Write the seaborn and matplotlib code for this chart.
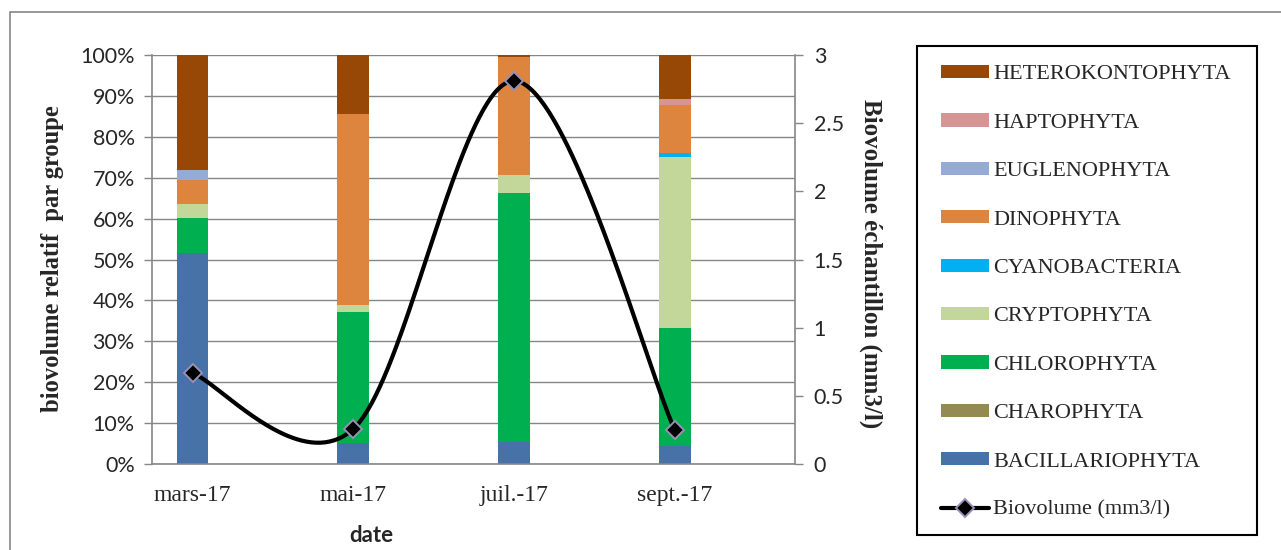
import numpy as np
import pandas as pd
import matplotlib
matplotlib.use("Agg")
import matplotlib.pyplot as plt
from matplotlib.patches import Patch, Rectangle
from matplotlib.lines import Line2D
import seaborn as sns

# Sampling dates and phytoplankton groups (bottom to top of each stack)
dates = ["mars-17", "mai-17", "juil.-17", "sept.-17"]
groups = ["BACILLARIOPHYTA", "CHAROPHYTA", "CHLOROPHYTA", "CRYPTOPHYTA",
          "CYANOBACTERIA", "DINOPHYTA", "EUGLENOPHYTA", "HAPTOPHYTA",
          "HETEROKONTOPHYTA"]

# Relative biovolume per group (%)
bacillariophyta = [51.5, 5.1, 5.5, 4.4]
charophyta = [0.0, 0.0, 0.0, 0.0]
chlorophyta = [8.6, 32.1, 60.7, 28.9]
cryptophyta = [3.4, 1.7, 4.5, 41.8]
cyanobacteria = [0.0, 0.0, 0.0, 1.0]
dinophyta = [6.0, 46.7, 28.9, 11.7]
euglenophyta = [2.4, 0.0, 0.0, 0.0]
haptophyta = [0.0, 0.0, 0.0, 1.4]
heterokontophyta = [28.1, 14.4, 0.4, 10.8]

# Total sample biovolume (mm3/l)
biovolume = [0.667, 0.257, 2.81, 0.25]

colors = {
    "BACILLARIOPHYTA": "#4672a8",
    "CHAROPHYTA": "#948a54",
    "CHLOROPHYTA": "#00b050",
    "CRYPTOPHYTA": "#c4d79b",
    "CYANOBACTERIA": "#00b0f0",
    "DINOPHYTA": "#dd843f",
    "EUGLENOPHYTA": "#95abd3",
    "HAPTOPHYTA": "#d69595",
    "HETEROKONTOPHYTA": "#974706",
}

df = pd.DataFrame({
    "BACILLARIOPHYTA": bacillariophyta,
    "CHAROPHYTA": charophyta,
    "CHLOROPHYTA": chlorophyta,
    "CRYPTOPHYTA": cryptophyta,
    "CYANOBACTERIA": cyanobacteria,
    "DINOPHYTA": dinophyta,
    "EUGLENOPHYTA": euglenophyta,
    "HAPTOPHYTA": haptophyta,
    "HETEROKONTOPHYTA": heterokontophyta,
}, index=dates)
cum = df[groups].cumsum(axis=1) / 100.0

sns.set_style("white")
plt.rcParams["font.family"] = ["Lato", "DejaVu Sans"]

SERIF = ["Liberation Serif", "DejaVu Serif"]
SANS = ["Lato", "DejaVu Sans"]
GRAY = "#868686"

W, H = 1281, 550
fig = plt.figure(figsize=(W / 100, H / 100), dpi=100)

def fx(px):
    return px / W

def fy(py):
    return 1 - py / H

left, right, top, bottom = 152, 795, 55, 464
ax = fig.add_axes([fx(left), fy(bottom), fx(right - left), (bottom - top) / H])

# Stacked bars: draw cumulative totals from the top group downwards
for g in reversed(groups):
    sns.barplot(x=dates, y=cum[g].values, color=colors[g], width=0.197,
                saturation=1, linewidth=0, errorbar=None, ax=ax, zorder=2)

ax.set_axisbelow(True)
ax.set_ylim(0, 1)
ax.set_xlim(-0.252, 3.748)
ax.set_yticks(np.arange(0, 1.01, 0.1))
ax.set_yticklabels([f"{int(round(v * 100))}%" for v in np.arange(0, 1.01, 0.1)],
                   family=SANS, fontsize=15.5)
ax.yaxis.grid(True, color=GRAY, linewidth=1.0)
ax.xaxis.grid(False)
ax.set_xticks(np.arange(5) - 0.252)
ax.set_xticklabels([])
ax.set_xticks(range(len(dates)), minor=True)
ax.set_xticklabels(dates, minor=True, family=SERIF, fontsize=17)
ax.tick_params(axis="x", which="major", direction="out", length=4.5,
               color=GRAY, width=1)
ax.tick_params(axis="x", which="minor", length=0, pad=15)
ax.tick_params(axis="y", direction="out", length=5.5, color=GRAY, width=1,
               pad=7)
ax.set_xlabel("")
ax.set_ylabel("")
for s in ["top", "right"]:
    ax.spines[s].set_visible(False)
for s in ["left", "bottom"]:
    ax.spines[s].set_color(GRAY)
    ax.spines[s].set_linewidth(1.2)

# Total biovolume on the secondary axis, drawn as a smoothed Bezier curve
ax2 = ax.twinx()

def smooth_curve(xs, ys, n=80):
    pts = np.column_stack([xs, ys]).astype(float)
    out = []
    for i in range(len(pts) - 1):
        p0 = pts[max(i - 1, 0)]
        p1 = pts[i]
        p2 = pts[i + 1]
        p3 = pts[min(i + 2, len(pts) - 1)]
        c1 = p1 + (p2 - p0) / 6
        c2 = p2 - (p3 - p1) / 6
        t = np.linspace(0, 1, n)[:, None]
        seg = ((1 - t) ** 3) * p1 + 3 * ((1 - t) ** 2) * t * c1 \
            + 3 * (1 - t) * t ** 2 * c2 + t ** 3 * p2
        out.append(seg if i == 0 else seg[1:])
    return np.vstack(out)

MARKER = dict(marker="D", markersize=9.5, markerfacecolor="black",
              markeredgecolor="#9b8fb5", markeredgewidth=1.4)

xpos = np.arange(len(dates))
curve = smooth_curve(xpos, biovolume)
sns.lineplot(x=curve[:, 0], y=curve[:, 1], sort=False, estimator=None,
             color="black", linewidth=3, ax=ax2, zorder=3)
ax2.plot(xpos, biovolume, linestyle="none", zorder=4, **MARKER)
ax2.set_ylim(0, 3)
ax2.set_xlim(-0.252, 3.748)
ax2.set_yticks(np.arange(0, 3.01, 0.5))
ax2.set_yticklabels(["0", "0.5", "1", "1.5", "2", "2.5", "3"],
                    family=SANS, fontsize=15.5)
ax2.tick_params(axis="y", direction="out", length=5.5, color=GRAY, width=1,
                pad=8)
ax2.set_ylabel("")
for s in ["top", "left", "bottom"]:
    ax2.spines[s].set_visible(False)
ax2.spines["right"].set_color(GRAY)
ax2.spines["right"].set_linewidth(1.2)

# Axis titles
fig.text(fx(53), fy(259), "biovolume relatif  par groupe", rotation=90,
         ha="center", va="center", family=SERIF, fontweight="bold",
         fontsize=17.7)
fig.text(fx(871), fy(264), "Biovolume échantillon (mm3/l)", rotation=270,
         ha="center", va="center", family=SERIF, fontweight="bold",
         fontsize=18)
fig.text(fx(371.5), fy(535), "date", ha="center", va="center", family=SANS,
         fontweight="bold", fontsize=16)

# Legend
handles = [Patch(facecolor=colors[g], edgecolor="none") for g in reversed(groups)]
labels = list(reversed(groups))
handles.append(Line2D([], [], color="black", linewidth=3, **MARKER))
labels.append("Biovolume (mm3/l)")
fig.legend(handles, labels, loc="upper left",
           bbox_to_anchor=(fx(941), fy(65)), bbox_transform=fig.transFigure,
           frameon=False, borderpad=0, borderaxespad=0,
           prop={"family": SERIF, "size": 16},
           handlelength=2.16, handleheight=0.54, handletextpad=0.2,
           labelspacing=1.30)
fig.patches.append(Rectangle((fx(917), fy(535)), fx(1257 - 917),
                             (535 - 46) / H, transform=fig.transFigure,
                             fill=False, edgecolor="black", linewidth=1.5))

# Chart area border
fig.patches.append(Rectangle((fx(10), fy(560)), fx(1290), (560 - 12) / H,
                             transform=fig.transFigure, fill=False,
                             edgecolor=GRAY, linewidth=1.2))

fig.savefig("out.png", dpi=100)
